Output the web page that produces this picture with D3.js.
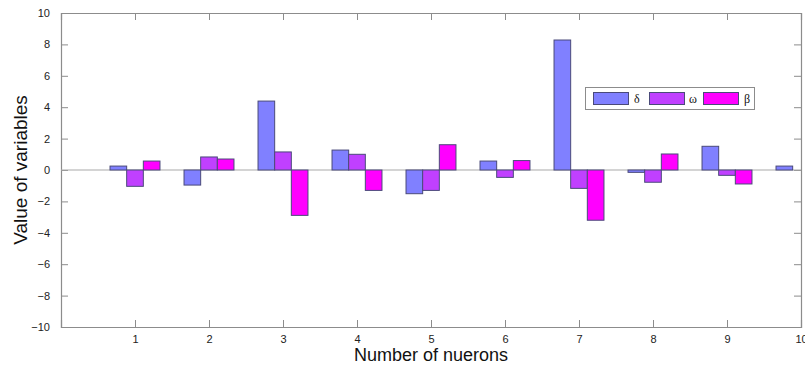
<!DOCTYPE html>
<html><head><meta charset="utf-8">
<script src="https://cdn.jsdelivr.net/npm/d3@7"></script>
<style>body{margin:0;background:#fff}svg{display:block}</style>
</head><body>
<svg id="chart" width="805" height="367"></svg>
<script>
const categories = [1,2,3,4,5,6,7,8,9,10];
const delta = [0.25,-0.96,4.39,1.27,-1.51,0.57,8.28,-0.15,1.51,0.25];
const omega = [-1.04,0.83,1.15,1.0,-1.3,-0.47,-1.17,-0.78,-0.34,0.0];
const beta  = [0.57,0.70,-2.89,-1.3,1.61,0.6,-3.2,1.02,-0.89,0.0];
const seriesNames = ["δ","ω","β"];
const yTicks = [-10,-8,-6,-4,-2,0,2,4,6,8,10];
const xTicks = [1,2,3,4,5,6,7,8,9,10];
const colors = ["#8080FF","#C040FF","#FF00FF"];

const svg = d3.select("#chart");
const m = {l:61, r:4, t:13, b:40};
const W = 805, H = 367;
const x = d3.scaleLinear().domain([0,10]).range([m.l, W-m.r]);
const y = d3.scaleLinear().domain([-10,10]).range([H-m.b, m.t]);
const axisCol = "#8c8c8c";

svg.append("defs").append("clipPath").attr("id","clip")
  .append("rect").attr("x",x(0)).attr("y",y(10)).attr("width",x(10)-x(0)).attr("height",y(-10)-y(10));

// axes (box with inward ticks)
const gL = svg.append("g").attr("transform",`translate(${x(0)},0)`)
  .call(d3.axisLeft(y).tickValues(yTicks).tickSize(-7).tickPadding(11).tickFormat(d=>d<0?"\u2212"+Math.abs(d):d));
const gR = svg.append("g").attr("transform",`translate(${x(10)},0)`)
  .call(d3.axisRight(y).tickValues(yTicks).tickSize(-7).tickFormat(""));
const gB = svg.append("g").attr("transform",`translate(0,${y(-10)})`)
  .call(d3.axisBottom(x).tickValues(xTicks).tickSize(-7).tickPadding(8).tickFormat(d3.format("d")));
const gT = svg.append("g").attr("transform",`translate(0,${y(10)})`)
  .call(d3.axisTop(x).tickValues(xTicks).tickSize(-7).tickFormat(""));
[gL,gR,gB,gT].forEach(g=>{
  g.selectAll("path.domain").attr("stroke",axisCol).attr("stroke-width",1.2);
  g.selectAll(".tick line").attr("stroke",axisCol);
  g.selectAll(".tick text").attr("fill","#222").style("font-family","Liberation Sans, Arial, sans-serif").style("font-size","11px");
});
gB.selectAll(".tick text").attr("y",8).attr("dy","0.71em");

// zero baseline
svg.append("line").attr("x1",x(0)).attr("x2",x(10)).attr("y1",y(0)).attr("y2",y(0))
  .attr("stroke","#aaaaaa").attr("stroke-width",1.2);

// bars
const bw = 0.225;
const series = [delta, omega, beta];
const plot = svg.append("g").attr("clip-path","url(#clip)");
series.forEach((vals,si)=>{
  plot.selectAll(null).data(categories).enter().append("rect")
    .attr("x",(c)=>x(c + (si-1.5)*bw))
    .attr("width",x(bw)-x(0))
    .attr("y",(c,i)=>y(Math.max(0,vals[i])))
    .attr("height",(c,i)=>Math.abs(y(vals[i])-y(0)))
    .attr("fill",colors[si])
    .attr("stroke","#4a4a7a").attr("stroke-width",1);
});

// legend
const lg = svg.append("g");
lg.append("rect").attr("x",585.5).attr("y",87.5).attr("width",169).attr("height",22)
  .attr("fill","#fff").attr("stroke","#8c8c8c").attr("stroke-width",1);
const sw = [593,649,703], tx=[634,689,744];
seriesNames.forEach((n,i)=>{
  lg.append("rect").attr("x",sw[i]+0.5).attr("y",92.5).attr("width",35).attr("height",12)
    .attr("fill",colors[i]).attr("stroke","#4a4a7a");
  lg.append("text").attr("x",tx[i]).attr("y",103).text(n)
    .style("font-family","Liberation Serif, Times New Roman, serif").style("font-size","12px").attr("fill","#111");
});

// axis labels
svg.append("text").attr("x",x(5)).attr("y",361).attr("text-anchor","middle")
  .style("font-family","Liberation Sans, Arial, sans-serif").style("font-size","18px").attr("fill","#111")
  .text("Number of nuerons");
svg.append("text").attr("transform",`translate(27,${y(0)}) rotate(-90)`).attr("text-anchor","middle")
  .style("font-family","Liberation Sans, Arial, sans-serif").style("font-size","19px").attr("fill","#111")
  .text("Value of variables");
</script>
</body></html>
